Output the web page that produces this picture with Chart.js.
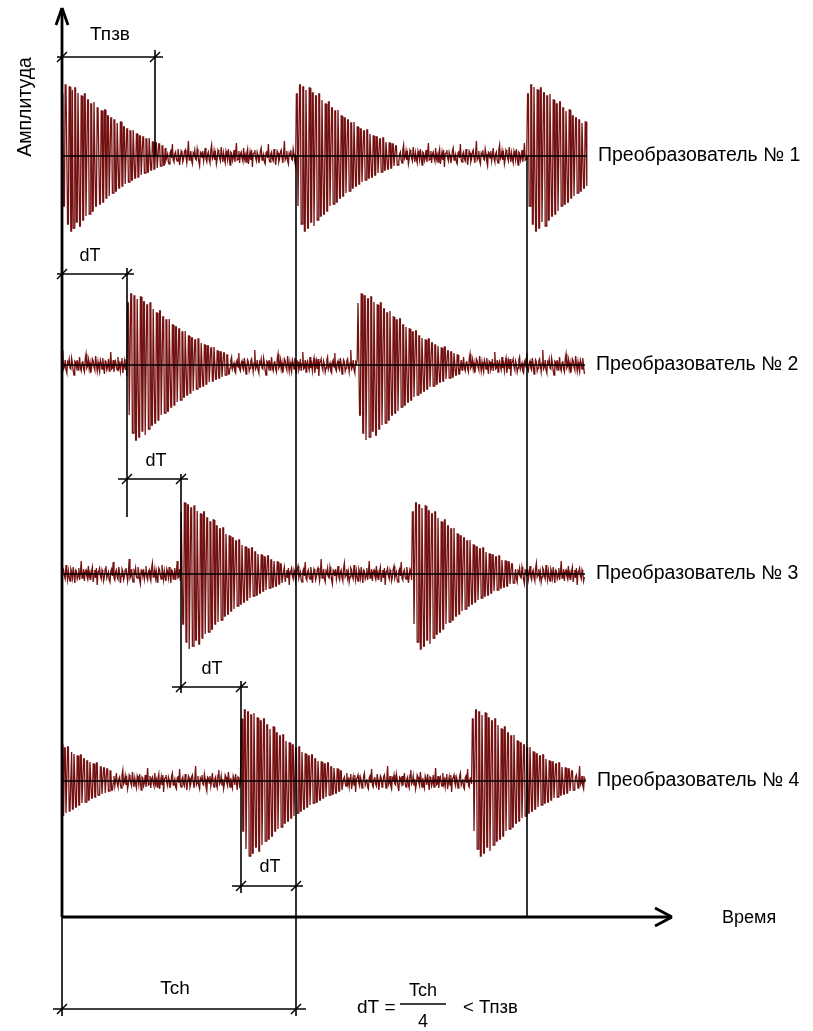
<!DOCTYPE html>
<html>
<head>
<meta charset="utf-8">
<script src="https://cdn.jsdelivr.net/npm/chart.js@4.4.1/dist/chart.umd.min.js"></script>
<style>
  html, body { margin: 0; padding: 0; background: #fff; }
  #wrap { width: 813px; height: 1031px; }
</style>
</head>
<body>
<div id="wrap"><canvas id="chart" width="813" height="1031"></canvas></div>
<script>
// sensor names shown at the right of each trace
const sensorNames = ['Преобразователь № 1', 'Преобразователь № 2', 'Преобразователь № 3', 'Преобразователь № 4'];

// burst onsets per sensor (time units along the X axis, 0 = Y axis)
const burstsP1 = [0, 234, 465];
const burstsP2 = [-166, 65, 296];
const burstsP3 = [-112, 119, 350];
const burstsP4 = [-52, 179, 410];
const traceEnd = [525, 523, 523, 524];

// one ringing burst, peak by peak (half-cycles)
const burstPeaks = [62,-50,71,-68,69,-75,66,-72,68,-66,63,-70,60,-64,62,-60,56,-58,52,-55,54,-50,48,-48,
  45,-46,46,-42,40,-40,38,-37,36,-35,33,-32,34,-30,29,-28,27,-26,25,-24,26,-22,22,-21,20,-19,19,-17,
  17,-16,18,-14,14,-13,13,-12,12,-10,10,-9];

// background noise samples
const noise = [3,6,-2,-5,4,1,-7,-3,5,8,-4,-1,2,-6,-8,3,5,-2,12,-4,-6,2,4,-3,-5,7,1,-9,-2,5,3,-6,-3,4,6,
  -1,-7,2,15,-4,-2,5,-5,-8,3,1,6,-3,-4,7,2,-6,-10,4,3,-2,5,-5,1,8,-3,-6,2,4,-4,-7,6,11,-3,-1,
  5,-4,2,-8,-3,6,4,-2,-5,9,1,-6,3,-3,-7,5,2,-4,7,-1,-9,4,3,-5,-2,6,-6,1,13,-4,-3,5,-7,2,4,-2,
  -5,8,-3,1,-6,3,7,-8,-2,4,-4,6,-11,2];

// marked intervals
const Tpzv = 93;
const Tch = 234;
const dTmarks = [0, 65, 119, 179, 234];

const peakStep = 1.6;
const sampleStep = 0.8;
const baseY = [156, 365, 574, 781];

function buildTrace(starts, end, shift) {
  const pts = [];
  const len = burstPeaks.length * peakStep;
  let i = 0;
  for (let t = 0; t <= end; t += sampleStep, i++) {
    let v = noise[(i + shift) % noise.length];
    starts.forEach(s => {
      if (t >= s && t < s + len) v = burstPeaks[Math.floor((t - s) / peakStep)];
    });
    pts.push({ x: t, y: v });
  }
  return pts;
}

const allBursts = [burstsP1, burstsP2, burstsP3, burstsP4];
const datasets = allBursts.map((b, k) => ({
  label: sensorNames[k],
  data: buildTrace(b, traceEnd[k], k * 37),
  yAxisID: 'y' + (k + 1),
  borderColor: '#741010',
  borderWidth: 1.3,
  pointRadius: 0,
  showLine: true,
  tension: 0
}));

const scales = {
  x: { type: 'linear', display: false, min: -62, max: 751 }
};
baseY.forEach((b, k) => {
  scales['y' + (k + 1)] = { type: 'linear', display: false, min: b - 1031, max: b };
});

const font = '"Liberation Sans", Arial, sans-serif';

const diagram = {
  id: 'diagram',
  afterDatasetsDraw(chart) {
    const ctx = chart.ctx;
    const X = v => chart.scales.x.getPixelForValue(v);
    const line = (x1, y1, x2, y2, w) => {
      ctx.lineWidth = w || 1.6;
      ctx.beginPath(); ctx.moveTo(x1, y1); ctx.lineTo(x2, y2); ctx.stroke();
    };
    const tick = (x, y) => line(x - 5, y + 5, x + 5, y - 5, 1.4);
    const text = (s, x, y, size, align) => {
      ctx.font = size + 'px ' + font;
      ctx.textAlign = align || 'center';
      ctx.textBaseline = 'middle';
      ctx.fillText(s, x, y);
    };
    ctx.save();
    ctx.strokeStyle = '#000';
    ctx.fillStyle = '#000';
    ctx.lineCap = 'butt';

    // baselines of the traces
    baseY.forEach((b, k) => {
      const y = chart.scales['y' + (k + 1)].getPixelForValue(0);
      line(X(0), y, X(traceEnd[k]), y, 1.6);
    });

    // axes
    const x0 = X(0);
    line(x0, 917, x0, 8, 2.8);
    line(x0 - 6, 25, x0, 8, 2.8); line(x0 + 6, 25, x0, 8, 2.8);
    line(x0, 917, 672, 917, 2.8);
    line(655, 908, 672, 917, 2.8); line(655, 926, 672, 917, 2.8);

    // vertical markers
    line(X(Tpzv), 50, X(Tpzv), baseY[0]);
    line(X(Tch), baseY[0], X(Tch), 1016);
    line(X(burstsP1[2]), baseY[0], X(burstsP1[2]), 917);
    line(X(dTmarks[1]), 268, X(dTmarks[1]), 517);
    line(X(dTmarks[2]), 474, X(dTmarks[2]), 693);
    line(X(dTmarks[3]), 681, X(dTmarks[3]), 893);
    line(x0, 917, x0, 1016);

    // dimension lines
    line(x0 - 5, 57, X(Tpzv) + 8, 57); tick(x0, 57); tick(X(Tpzv), 57);
    const dimY = [274, 479, 687, 886];
    for (let k = 0; k < 4; k++) {
      const a = X(dTmarks[k]), b = X(dTmarks[k + 1]), y = dimY[k];
      line(a - (k ? 9 : 5), y, b + 7, y);
      tick(a, y); tick(b, y);
    }
    line(x0 - 9, 1009, X(Tch) + 10, 1009); tick(x0, 1009); tick(X(Tch), 1009);

    // labels
    text('Тпзв', 110, 35, 19);
    text('dT', 90, 256, 18);
    text('dT', 156, 461, 18);
    text('dT', 212, 669, 18);
    text('dT', 270, 867, 18);
    text('Tch', 175, 989, 19);
    text('Время', 722, 918, 18, 'left');
    sensorNames.forEach((s, k) => {
      const y = chart.scales['y' + (k + 1)].getPixelForValue(0);
      text(s, X(traceEnd[k]) + 11, y, 19.5, 'left');
    });

    // formula
    text('dT =', 357, 1008, 19, 'left');
    line(400, 1004, 446, 1004, 1.4);
    text('Tch', 423, 991, 18);
    text('4', 423, 1022, 18);
    text('< Тпзв', 463, 1008, 18.5, 'left');

    // vertical axis title
    ctx.translate(26, 107);
    ctx.rotate(-Math.PI / 2);
    text('Амплитуда', 0, 0, 19.5);
    ctx.restore();
  }
};

new Chart(document.getElementById('chart'), {
  type: 'scatter',
  data: { datasets },
  options: {
    responsive: false,
    animation: false,
    layout: { padding: 0 },
    scales,
    plugins: { legend: { display: false }, tooltip: { enabled: false } }
  },
  plugins: [diagram]
});
</script>
</body>
</html>
